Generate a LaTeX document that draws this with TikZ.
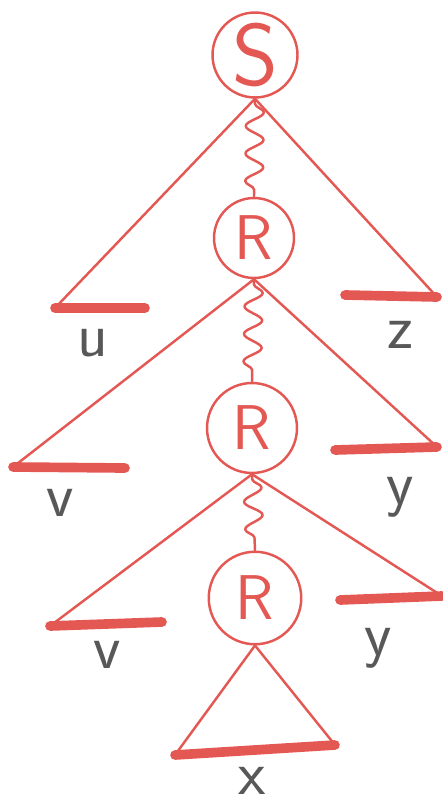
\documentclass[tikz,border=0pt]{standalone}
\usetikzlibrary{decorations.pathmorphing}
\definecolor{inkred}{RGB}{228,88,84}
\definecolor{inkgray}{RGB}{88,88,88}
\begin{document}
\begin{tikzpicture}[x=0.02cm,y=-0.02cm,line join=round,line cap=round,inkred,line width=1.4pt]
	\tikzset{every node/.style={font=\sffamily},
		var/.style={circle,draw,inner sep=0pt,line width=1.4pt,text=inkred},
		wavy/.style={decorate,decoration={snake,amplitude=1.8mm,segment length=5.5mm,pre length=1mm,post length=1mm}},
		word/.style={line width=5.5pt},
		leaf/.style={text=inkgray,font=\sffamily\fontsize{36}{36}\selectfont}}
	\useasboundingbox (0,0) rectangle (443,805);
	% variables on the path
	\node[var,minimum size=1.7cm,font=\sffamily\fontsize{50}{50}\selectfont] (S) at (255,55) {S};
	\node[var,minimum size=1.6cm,font=\sffamily\fontsize{36}{36}\selectfont] (R1) at (254,238) {R};
	\node[var,minimum size=1.8cm,font=\sffamily\fontsize{36}{36}\selectfont] (R2) at (252,428) {R};
	\node[var,minimum size=1.85cm,font=\sffamily\fontsize{36}{36}\selectfont] (R3) at (255,598) {R};
	\draw[wavy] (S.south) -- (R1.north);
	\draw[wavy] (R1.south) -- (R2.north);
	\draw[wavy] (R2.south) -- (R3.north);
	% ends of the subtrees
	\coordinate (uL) at (55,308); \coordinate (uR) at (145,308);
	\coordinate (zL) at (345,295); \coordinate (zR) at (437,297);
	\coordinate (vL1) at (13,467); \coordinate (vR1) at (125,468);
	\coordinate (yL1) at (335,450); \coordinate (yR1) at (437,447);
	\coordinate (vL2) at (50,626); \coordinate (vR2) at (162,622);
	\coordinate (yL2) at (340,600); \coordinate (yR2) at (442,596);
	\coordinate (xL) at (175,755); \coordinate (xR) at (335,745);
	\draw (uL)--(S.south)--(zR);
	\draw (vL1)--(R1.south)--(yR1);
	\draw (vL2)--(R2.south)--(yR2);
	\draw (xL)--(R3.south)--(xR);
	\foreach \a/\b in {uL/uR, zL/zR, vL1/vR1, yL1/yR1, vL2/vR2, yL2/yR2, xL/xR}
		\draw[word] (\a)--(\b);
	% the pieces of the word
	\node[leaf] (u) at (93,343) {u};
	\node[leaf] (z) at (400,335) {z};
	\node[leaf] (v1) at (60,503) {v};
	\node[leaf] (y1) at (400,497) {y};
	\node[leaf] (v2) at (107,655) {v};
	\node[leaf] (y2) at (378,648) {y};
	\node[leaf] (x) at (252,781) {x};
\end{tikzpicture}
\end{document}
